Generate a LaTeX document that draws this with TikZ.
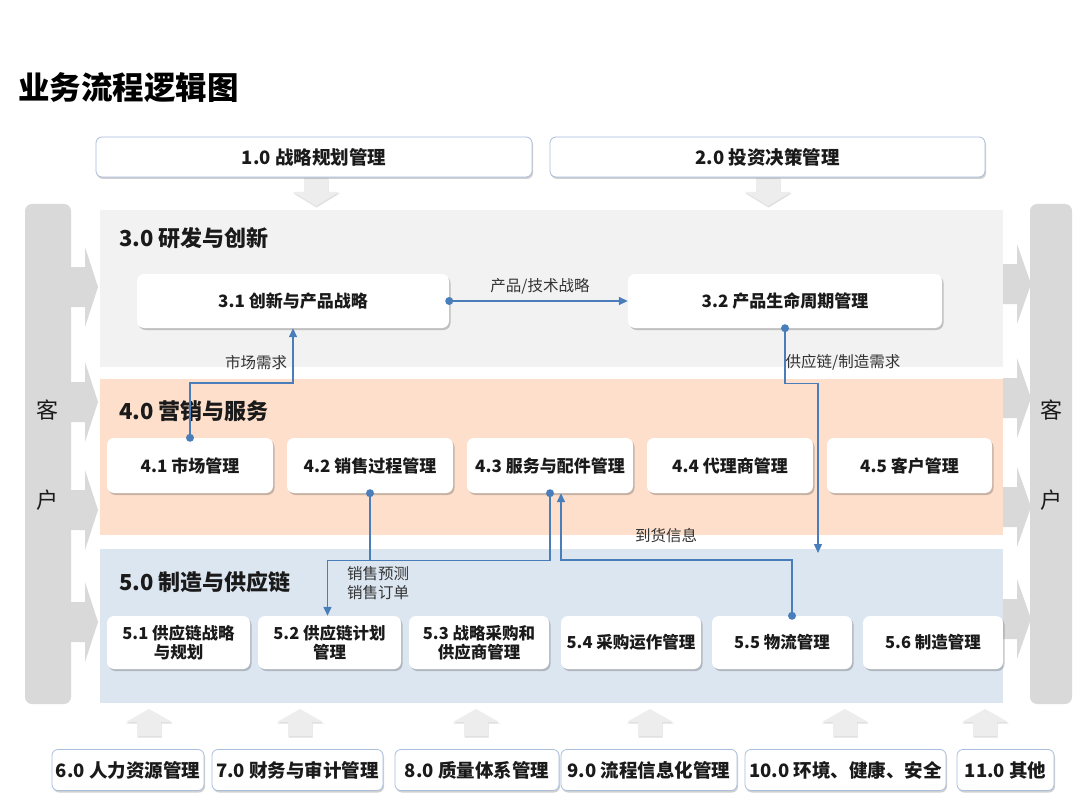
\documentclass[tikz,border=0pt]{standalone}
\usepackage{fontspec}
\setmainfont{Noto Sans CJK SC}
\usetikzlibrary{shadows,arrows.meta,calc}
\definecolor{lineblue}{HTML}{4A7EBB}
\definecolor{secgray}{HTML}{F2F2F2}
\definecolor{secpeach}{HTML}{FDDFCB}
\definecolor{secblue}{HTML}{DCE6F1}
\definecolor{custgray}{HTML}{D9D9D9}
\definecolor{arrgray}{HTML}{EDEDED}
\definecolor{boxborder}{HTML}{A9BDDC}
\definecolor{txt}{HTML}{1A1A1A}
\definecolor{lbl}{HTML}{333333}
\tikzset{
  topbox/.style={draw=boxborder, line width=0.8pt, fill=white, rounded corners=6pt, inner sep=0pt,
    text=txt, font=\fontsize{18.5}{22}\selectfont\bfseries,
    drop shadow={shadow xshift=1pt, shadow yshift=-2pt, opacity=0.3, fill=black!60}},
  inbox/.style={fill=white, rounded corners=7pt, inner sep=0pt, text=txt, align=center,
    font=\fontsize{17}{20}\selectfont\bfseries,
    drop shadow={shadow xshift=1.5pt, shadow yshift=-2pt, opacity=0.3, fill=black!70}},
  sec/.style={inner sep=0pt, draw=none},
  sectitle/.style={anchor=west, inner sep=0pt, text=txt, font=\fontsize{22}{25}\selectfont\bfseries},
  cust/.style={fill=custgray, rounded corners=7pt, inner sep=0pt},
  custtxt/.style={inner sep=0pt, text=txt, font=\fontsize{22}{24}\selectfont},
  conn/.style={draw=lineblue, line width=1.4pt, -{Triangle[length=9pt,width=8pt]}},
  connplain/.style={draw=lineblue, line width=1.4pt},
  dot/.style={circle, fill=lineblue, inner sep=0pt, minimum size=8pt},
  lab/.style={inner sep=0pt, text=lbl, font=\fontsize{15.5}{19}\selectfont},
  garrow/.style={fill=arrgray, drop shadow={shadow xshift=0.5pt, shadow yshift=-1.5pt, opacity=0.25, fill=black!50}},
}
\begin{document}
\begin{tikzpicture}[x=1pt,y=-1pt]
\useasboundingbox (0,0) rectangle (1080,797);
\fill[white] (0,0) rectangle (1080,797);

% title
\node[anchor=west, inner sep=0pt, text=black, font=\fontsize{31.5}{35}\selectfont\bfseries] (title) at (18,88) {业务流程逻辑图};

% section backgrounds
\node[sec, fill=secgray, minimum width=903pt, minimum height=157pt] (s3) at (551.5,288.5) {};
\node[sec, fill=secpeach, minimum width=903pt, minimum height=156pt] (s4) at (551.5,457) {};
\node[sec, fill=secblue, minimum width=903pt, minimum height=154pt] (s5) at (551.5,626) {};

% customer arrows
\foreach \c in {287,402,510,622}{
  \fill[custgray] (66,\c-20) -- (85,\c-20) -- (85,\c-40) -- (98,\c) -- (85,\c+40) -- (85,\c+20) -- (66,\c+20) -- cycle;
}
\foreach \c in {284,398,507,619}{
  \fill[custgray] (1003,\c-20) -- (1017,\c-20) -- (1017,\c-40) -- (1031,\c) -- (1017,\c+40) -- (1017,\c+20) -- (1003,\c+20) -- cycle;
}

% customer bars
\node[cust, minimum width=46pt, minimum height=500pt] (cl) at (48,454) {};
\node[cust, minimum width=42pt, minimum height=500pt] (cr) at (1051,454) {};
\node[custtxt] (cl1) at (47,410) {客};
\node[custtxt] (cl2) at (47,500) {户};
\node[custtxt] (cr1) at (1051,410) {客};
\node[custtxt] (cr2) at (1051,500) {户};

% top arrows
\foreach \c in {316,768}{
  \path[garrow] (\c-12,178) -- (\c+12,178) -- (\c+12,192) -- (\c+23,192) -- (\c,206) -- (\c-23,192) -- (\c-12,192) -- cycle;
}
% bottom arrows
\foreach \c in {149,300,476,650,845,985}{
  \path[garrow] (\c,709) -- (\c+23,722) -- (\c+12,722) -- (\c+12,736) -- (\c-12,736) -- (\c-12,722) -- (\c-23,722) -- cycle;
}

% top boxes
\node[topbox, minimum width=436pt, minimum height=40pt] (b1) at (314,157) {1.0 战略规划管理};
\node[topbox, minimum width=435pt, minimum height=40pt] (b2) at (767.5,157) {2.0 投资决策管理};

% section titles
\node[sectitle] (t3) at (119,238) {3.0 研发与创新};
\node[sectitle] (t4) at (119,411) {4.0 营销与服务};
\node[sectitle] (t5) at (119,582) {5.0 制造与供应链};

% 3.x boxes
\node[inbox, minimum width=312pt, minimum height=54pt] (b31) at (293,301) {3.1 创新与产品战略};
\node[inbox, minimum width=314pt, minimum height=54pt] (b32) at (785,301) {3.2 产品生命周期管理};

% 4.x boxes
\node[inbox, minimum width=166pt, minimum height=55pt] (b41) at (190,465.5) {4.1 市场管理};
\node[inbox, minimum width=166pt, minimum height=55pt] (b42) at (370,465.5) {4.2 销售过程管理};
\node[inbox, minimum width=166pt, minimum height=55pt] (b43) at (550,465.5) {4.3 服务与配件管理};
\node[inbox, minimum width=166pt, minimum height=55pt] (b44) at (730,465.5) {4.4 代理商管理};
\node[inbox, minimum width=165pt, minimum height=55pt] (b45) at (909.5,465.5) {4.5 客户管理};

% 5.x boxes
\node[inbox, minimum width=143pt, minimum height=53pt, font=\fontsize{16.5}{19}\selectfont\bfseries] (b51) at (178.5,642.5) {5.1 供应链战略\\与规划};
\node[inbox, minimum width=143pt, minimum height=53pt, font=\fontsize{16.5}{19}\selectfont\bfseries] (b52) at (329.5,642.5) {5.2 供应链计划\\管理};
\node[inbox, minimum width=140pt, minimum height=53pt, font=\fontsize{16.5}{19}\selectfont\bfseries] (b53) at (479,642.5) {5.3 战略采购和\\供应商管理};
\node[inbox, minimum width=140pt, minimum height=53pt, font=\fontsize{16.5}{19}\selectfont\bfseries] (b54) at (631,642.5) {5.4 采购运作管理};
\node[inbox, minimum width=140pt, minimum height=53pt, font=\fontsize{16.5}{19}\selectfont\bfseries] (b55) at (782,642.5) {5.5 物流管理};
\node[inbox, minimum width=140pt, minimum height=53pt, font=\fontsize{16.5}{19}\selectfont\bfseries] (b56) at (933,642.5) {5.6 制造管理};

% bottom boxes
\node[topbox, minimum width=152pt, minimum height=41pt] (b6) at (128,770) {6.0 人力资源管理};
\node[topbox, minimum width=171pt, minimum height=41pt] (b7) at (297.5,770) {7.0 财务与审计管理};
\node[topbox, minimum width=164pt, minimum height=41pt] (b8) at (477,770) {8.0 质量体系管理};
\node[topbox, minimum width=176pt, minimum height=41pt] (b9) at (649,770) {9.0 流程信息化管理};
\node[topbox, minimum width=201pt, minimum height=41pt] (b10) at (845.5,770) {10.0 环境、健康、安全};
\node[topbox, minimum width=97pt, minimum height=41pt] (b11) at (1005.5,770) {11.0 其他};

% connectors
\coordinate (scend) at (818,553);
\draw[conn] (b31.east) -- (b32.west);
\node[dot] (d31) at (b31.east) {};
\node[lab] (l1) at (540,286) {产品/技术战略};

\draw[conn] (b41.north) -- ++(0,-55) -| (b31.south);
\node[dot] (d41) at (b41.north) {};
\node[lab] (l2) at (256,363) {市场需求};

\draw[conn] (b32.south) -- ++(0,55) -| (scend);
\node[dot] (d32) at (b32.south) {};
\node[lab] (l3) at (843,362) {供应链/制造需求};

\draw[conn] (b43.south) -- ++(0,67) -| ([xshift=-2pt]b52.north);
\draw[connplain] (b42.south) -- ++(0,67);
\node[dot] (d42) at (b42.south) {};
\node[dot] (d43) at (b43.south) {};
\node[lab, align=left, anchor=north west] (l4) at (347,566) {销售预测\\销售订单};

\draw[conn] ([xshift=10pt]b55.north) -- ++(0,-56) -| ([xshift=11pt]b43.south);
\node[dot] (d55) at ([xshift=10pt]b55.north) {};
\node[lab] (l5) at (666,536) {到货信息};
\end{tikzpicture}
\end{document}
